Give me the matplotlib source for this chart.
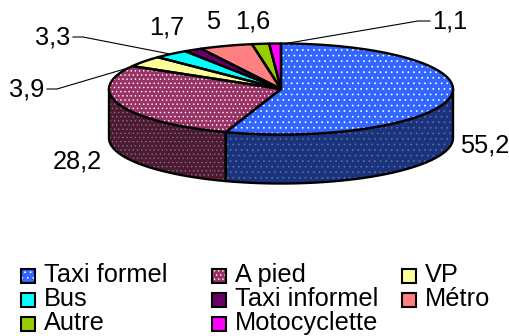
import numpy as np
import matplotlib
matplotlib.use("Agg")
import matplotlib.pyplot as plt
from matplotlib.patches import Polygon, Rectangle

plt.rcParams['font.family'] = ['Liberation Sans', 'DejaVu Sans']
plt.rcParams['hatch.linewidth'] = 0.5

categories = ["Taxi formel", "A pied", "VP", "Bus", "Taxi informel", "Métro", "Autre", "Motocyclette"]
values = [55.2, 28.2, 3.9, 3.3, 1.7, 5, 1.6, 1.1]
value_labels = ["55,2", "28,2", "3,9", "3,3", "1,7", "5", "1,6", "1,1"]
colors = ["#3366ff", "#993366", "#ffff99", "#00ffff", "#660066", "#ff8080", "#99cc00", "#ff00ff"]
side_colors = ["#1a337f", "#4c1a33", "#7f7f4c", "#007f7f", "#330033", "#7f4040", "#4c6600", "#7f007f"]
hatches = ["...", "....", None, None, None, None, None, None]
side_dots = ["#66708c", "#85707c", None, None, None, None, None, None]

CX, CY, RX, RY, DEPTH = 281, 89, 172, 45.5, 49
FS = 18.3

fig = plt.figure(figsize=(5.1, 3.36), dpi=100)
ax = fig.add_axes([0, 0, 1, 1])
ax.set_xlim(0, 510)
ax.set_ylim(336, 0)
ax.axis("off")


def rim(theta):
    """Screen position of a clockwise-from-top angle (degrees) on the pie's rim."""
    t = np.radians(theta)
    return np.column_stack([CX + RX * np.sin(t), CY - RY * np.cos(t)])


def fill_and_outline(pts, face, dots, hatch, z):
    if hatch:
        ax.add_patch(Polygon(pts, closed=True, facecolor=face, edgecolor=dots, hatch=hatch, lw=0, zorder=z))
    else:
        ax.add_patch(Polygon(pts, closed=True, facecolor=face, edgecolor="none", zorder=z))
    ax.add_patch(Polygon(pts, closed=True, facecolor="none", edgecolor="black", lw=1.7, joinstyle="round", zorder=z + 0.1))


edges = np.concatenate([[0], np.cumsum(values)]) * 3.6

# Outer wall: only the part of the rim facing the viewer (90 to 270 degrees).
for i in range(len(values)):
    a, b = max(edges[i], 90), min(edges[i + 1], 270)
    if a >= b:
        continue
    top = rim(np.linspace(a, b, 60))
    wall = np.vstack([top, (top + [0, DEPTH])[::-1]])
    fill_and_outline(wall, side_colors[i], side_dots[i], hatches[i], 2)

# Top face of every slice.
for i in range(len(values)):
    arc = rim(np.linspace(edges[i], edges[i + 1], 80))
    fill_and_outline(np.vstack([[CX, CY], arc]), colors[i], "white", hatches[i], 3)

# Value labels and their leader lines.
label_pos = [(485, 146), (77, 162), (27, 89), (53, 37), (167, 27), (213, 22), (253, 21), (450, 22)]
for text, (x, y) in zip(value_labels, label_pos):
    ax.text(x, y, text, fontsize=FS, ha="center", va="center", color="black", zorder=5)
leaders = {2: [(47, 89), (57, 89), (128, 68)], 3: [(73, 37), (83, 37), (170, 54)], 7: [(283, 44), (418, 21), (430, 21)]}
for pts in leaders.values():
    xs, ys = zip(*pts)
    ax.plot(xs, ys, color="black", lw=0.8, zorder=4)

# Legend, filled column by column across three rows.
col_x = [21, 212, 402]
row_y = [269, 293, 317]
for i, name in enumerate(categories):
    x, y = col_x[i % 3], row_y[i // 3]
    if hatches[i]:
        ax.add_patch(Rectangle((x, y), 14, 14, facecolor=colors[i], edgecolor="white", hatch=hatches[i], lw=0, zorder=3))
    ax.add_patch(Rectangle((x, y), 14, 14, facecolor="none" if hatches[i] else colors[i], edgecolor="black", lw=1.5, zorder=3.1))
    ax.text(x + 23, y + 6, name, fontsize=FS, ha="left", va="center", color="black")

fig.savefig("out.png", dpi=100)
